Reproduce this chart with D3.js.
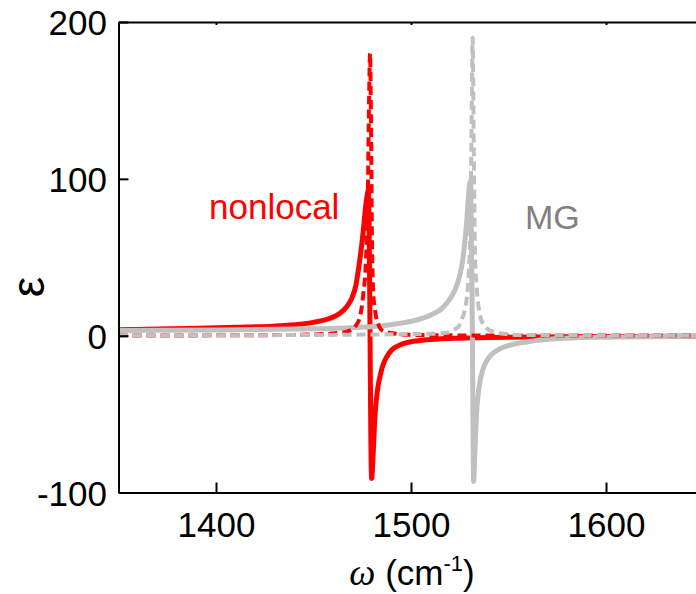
<!DOCTYPE html>
<html>
<head>
<meta charset="utf-8">
<script src="https://cdn.jsdelivr.net/npm/d3@7"></script>
<style>
  body { margin: 0; background: #fff; }
  svg { display: block; }
</style>
</head>
<body>
<div id="chart"></div>
<script>
// nonlocal model, real part (solid red)
var nlReW   = [1350, 1385, 1410, 1433, 1450, 1458.5, 1463.6, 1467, 1469.6, 1471.8, 1473.5, 1475.2, 1476.9, 1477.6, 1478.1, 1478.6, 1479.0, 1479.4, 1479.8, 1480.7, 1481.5, 1482.4, 1483.2, 1484.1, 1485.3, 1486.7, 1488.3, 1490.1, 1494.4, 1501.2, 1515, 1540, 1566, 1600, 1650];
var nlReEps = [3.8, 4.6, 5.3, 6.4, 8.5, 11.1, 14.3, 18.5, 23.8, 32.5, 46.2, 63, 84, 90, 93, 60, 0, -65, -91, -72.9, -51.6, -38.9, -31.5, -26.1, -20, -15.5, -12, -9.1, -5.9, -3.6, -2.0, -1.2, -0.8, -0.55, -0.35];

// nonlocal model, imaginary part (dashed red)
var nlImW   = [1350, 1400, 1440, 1455, 1462, 1467, 1471.3, 1473.8, 1475.5, 1476.9, 1477.8, 1478.5, 1479.0, 1479.5, 1480.0, 1480.7, 1481.5, 1482.4, 1483.2, 1485.8, 1490, 1497.8, 1520, 1560, 1650];
var nlImEps = [0.1, 0.2, 0.5, 1.0, 1.7, 2.6, 5.7, 12, 26, 48, 85, 150, 180, 135, 60, 26, 17, 10, 7.2, 2.8, 1.7, 0.6, 0.2, 0.1, 0.05];

// Maxwell-Garnett, real part (solid gray)
var mgReW   = [1350, 1400, 1440, 1471.5, 1486.5, 1494.5, 1501.5, 1506.5, 1511.5, 1515.5, 1518.5, 1520.5, 1522.5, 1524, 1525.1, 1526.5, 1527.7, 1528.5, 1529.4, 1530, 1530.6, 1531.0, 1531.5, 1531.8, 1532.1, 1532.8, 1533.7, 1534.5, 1535.4, 1536.3, 1537.5, 1538.8, 1540.5, 1542.2, 1545.6, 1549.1, 1554.2, 1559.3, 1571.5, 1596.5, 1650];
var mgReEps = [3.3, 3.6, 4.2, 5.2, 6.5, 7.9, 9.5, 11.3, 14, 17, 21, 24.5, 29, 34, 39, 48, 61, 72, 88, 96, 99, 60, 0, -60, -93, -72.9, -48, -36.8, -29.1, -24, -19.4, -16.1, -13.1, -11, -8.3, -6.6, -5.0, -4.0, -2.2, -1.0, -0.4];

// Maxwell-Garnett, imaginary part (dashed gray)
var mgImW   = [1350, 1420, 1470, 1500, 1512, 1518.3, 1521.7, 1524.3, 1526, 1527.5, 1528.6, 1529.6, 1530.3, 1531.0, 1531.6, 1532.2, 1532.8, 1533.6, 1534.5, 1535.8, 1537.1, 1539.5, 1542.2, 1549.1, 1555, 1600, 1650];
var mgImEps = [0.1, 0.3, 0.6, 1.0, 1.3, 1.8, 3.6, 5.7, 10, 16, 24, 40, 63, 125, 190, 120, 52, 32, 20, 11, 7.3, 4, 2.6, 1.0, 0.5, 0.15, 0.1];

var xTicks = [1400, 1500, 1600];
var yTicks = [-100, 0, 100, 200];

var margin = { top: 22, left: 118.5 };
var width = 585;
var height = 470.5;

var fontFamily = "'Liberation Sans', Arial, sans-serif";
var red = "#ff0000";
var gray = "#c0c0c0";

var svg = d3.select("#chart")
    .append("svg")
    .attr("width", 696)
    .attr("height", 594);

var g = svg.append("g")
    .attr("transform", "translate(" + margin.left + "," + margin.top + ")");

var x = d3.scaleLinear().domain([1350, 1650]).range([0, width]);
var y = d3.scaleLinear().domain([-100, 200]).range([height, 0]);

function zipSeries(ws, es) {
    return ws.map(function (w, i) { return [w, es[i]]; });
}

var line = d3.line()
    .x(function (d) { return x(d[0]); })
    .y(function (d) { return y(d[1]); })
    .curve(d3.curveMonotoneX);

g.append("clipPath").attr("id", "plotClip")
    .append("rect").attr("x", 0).attr("y", 0).attr("width", width).attr("height", height);

var gLines = g.append("g").attr("clip-path", "url(#plotClip)");

var series = [
    { data: zipSeries(nlReW, nlReEps), color: red, width: 5, dash: null },
    { data: zipSeries(mgReW, mgReEps), color: gray, width: 5, dash: null },
    { data: zipSeries(nlImW, nlImEps), color: red, width: 4, dash: "9,5" },
    { data: zipSeries(mgImW, mgImEps), color: gray, width: 4, dash: "9,5" }
];

series.forEach(function (s) {
    gLines.append("path")
        .datum(s.data)
        .attr("fill", "none")
        .attr("stroke", s.color)
        .attr("stroke-width", s.width)
        .attr("stroke-dasharray", s.dash)
        .attr("d", line);
});

// axes, ticks pointing inwards
var plainNumber = function (d) { return String(d); };

var xAxis = g.append("g")
    .attr("transform", "translate(0," + height + ")")
    .call(d3.axisBottom(x).tickValues(xTicks).tickFormat(plainNumber)
        .tickSizeInner(-10).tickSizeOuter(0).tickPadding(20));

var topAxis = g.append("g")
    .call(d3.axisTop(x).tickValues(xTicks).tickSizeInner(-3).tickSizeOuter(0).tickFormat(""));

var yAxis = g.append("g")
    .call(d3.axisLeft(y).tickValues(yTicks).tickFormat(plainNumber)
        .tickSizeInner(-10).tickSizeOuter(0).tickPadding(11.5));

[xAxis, topAxis, yAxis].forEach(function (a) {
    a.select(".domain").attr("stroke", "#000").attr("stroke-width", 2);
    a.selectAll(".tick line").attr("stroke", "#000").attr("stroke-width", 2);
    a.selectAll(".tick text")
        .attr("fill", "#000")
        .style("font-size", "35px")
        .attr("font-family", fontFamily);
});

yAxis.selectAll(".tick text").attr("dy", "0.36em");

// labels inside the plot
g.append("text")
    .attr("x", 209 - margin.left)
    .attr("y", 219 - margin.top)
    .attr("fill", red)
    .style("font-size", "35px")
    .attr("font-family", fontFamily)
    .text("nonlocal");

g.append("text")
    .attr("x", 525 - margin.left)
    .attr("y", 229 - margin.top)
    .attr("fill", "#808080")
    .style("font-size", "34px")
    .attr("font-family", fontFamily)
    .text("MG");

// axis titles
svg.append("text")
    .attr("transform", "translate(44,287) rotate(-90)")
    .attr("text-anchor", "middle")
    .style("font-size", "46px")
    .attr("font-family", fontFamily)
    .text("ε");

var xTitle = svg.append("text")
    .attr("x", 412)
    .attr("y", 585)
    .attr("text-anchor", "middle")
    .style("font-size", "35px")
    .attr("font-family", fontFamily);

xTitle.append("tspan")
    .attr("font-family", "'Liberation Serif', 'Times New Roman', serif")
    .attr("font-style", "italic")
    .style("font-size", "37px")
    .text("ω");
xTitle.append("tspan").text(" (cm");
xTitle.append("tspan").attr("dy", -14).style("font-size", "22px").text("-1");
xTitle.append("tspan").attr("dy", 14).text(")");
</script>
</body>
</html>
